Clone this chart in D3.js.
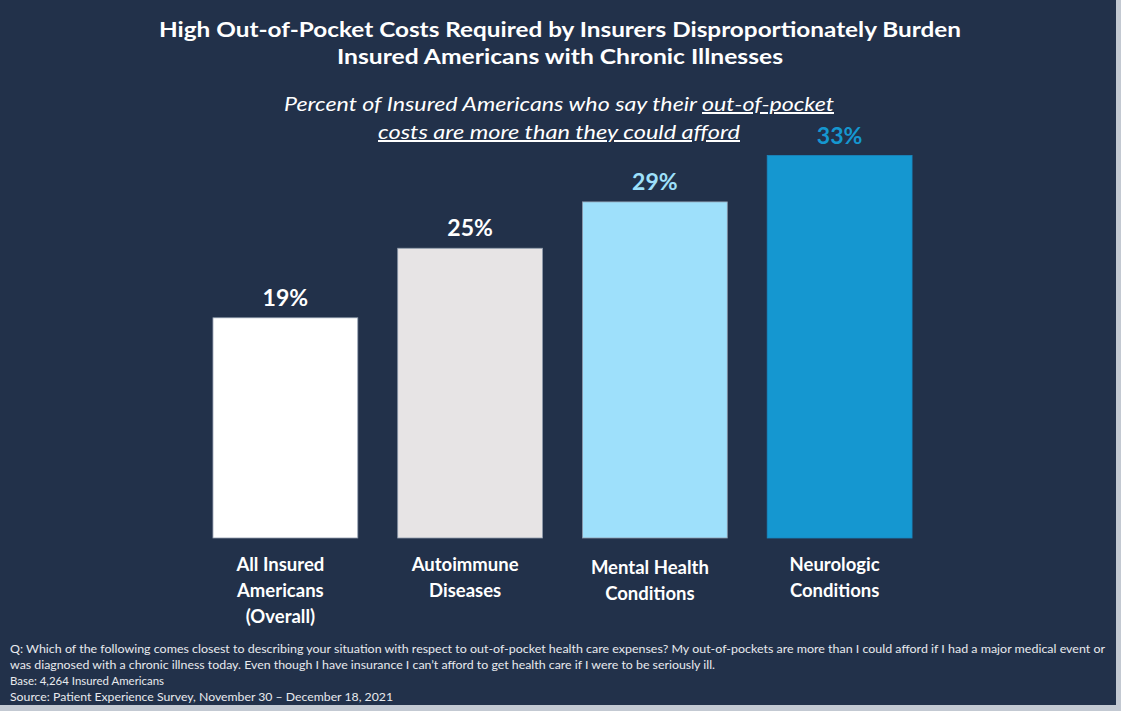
<!DOCTYPE html>
<html>
<head>
    <meta charset="utf-8">
    <script src="https://d3js.org/d3.v7.min.js"></script>
    <style>
        html, body { margin: 0; padding: 0; background: #ffffff; }
        svg { display: block; }
    </style>
</head>
<body>
    <script>
        // chart data
        var categories = ["All Insured Americans (Overall)", "Autoimmune Diseases", "Mental Health Conditions", "Neurologic Conditions"];
        var labelLines = [["All Insured", "Americans", "(Overall)"], ["Autoimmune", "Diseases"], ["Mental Health", "Conditions"], ["Neurologic", "Conditions"]];
        var values = [19, 25, 29, 33];
        var barColors = ["#ffffff", "#e7e4e5", "#9ee0fb", "#1597d0"];
        var valueColors = ["#ffffff", "#ffffff", "#9ee0fb", "#1597d0"];

        var titleLines = ["High Out-of-Pocket Costs Required by Insurers Disproportionately Burden", "Insured Americans with Chronic Illnesses"];
        var footnotes = [
            "Q: Which of the following comes closest to describing your situation with respect to out-of-pocket health care expenses? My out-of-pockets are more than I could afford if I had a major medical event or",
            "was diagnosed with a chronic illness today. Even though I have insurance I can\u2019t afford to get health care if I were to be seriously ill.",
            "Base: 4,264 Insured Americans",
            "Source: Patient Experience Survey, November 30 \u2013 December 18, 2021"
        ];

        var width = 1121, height = 711;
        var font = "Lato, 'Open Sans', sans-serif";

        var svg = d3.select("body").append("svg")
            .attr("width", width)
            .attr("height", height);

        // light frame on right / bottom, dark panel
        svg.append("rect").attr("width", width).attr("height", height).attr("fill", "#c3c9d2");
        svg.append("rect").attr("width", 1116).attr("height", 705).attr("fill", "#22314a");

        // title
        svg.append("g").selectAll("text")
            .data(titleLines)
            .join("text")
            .attr("x", 560)
            .attr("y", function(d, i) { return 37 + i * 27; })
            .attr("text-anchor", "middle")
            .attr("fill", "#ffffff")
            .style("font-family", font)
            .style("font-weight", "bold")
            .style("font-size", "21px")
            .attr("textLength", function(d, i) { return i === 0 ? 802 : 446; })
            .attr("lengthAdjust", "spacingAndGlyphs")
            .text(function(d) { return d; });

        // subtitle
        var sub1 = svg.append("text")
            .attr("x", 559).attr("y", 111)
            .attr("text-anchor", "middle")
            .attr("fill", "#ffffff")
            .style("font-family", font)
            .style("font-style", "italic")
            .style("font-size", "20px")
            .attr("textLength", 550)
            .attr("lengthAdjust", "spacingAndGlyphs");
        sub1.append("tspan").text("Percent of Insured Americans who say their ");
        sub1.append("tspan").style("text-decoration", "underline").text("out-of-pocket");

        svg.append("text")
            .attr("x", 559).attr("y", 139)
            .attr("text-anchor", "middle")
            .attr("fill", "#ffffff")
            .style("font-family", font)
            .style("font-style", "italic")
            .style("font-size", "20px")
            .style("text-decoration", "underline")
            .attr("textLength", 362)
            .attr("lengthAdjust", "spacingAndGlyphs")
            .text("costs are more than they could afford");

        // scales
        var x = d3.scaleBand()
            .domain(categories)
            .range([193, 932])
            .paddingInner(0.216)
            .paddingOuter(0.108);

        var y = d3.scaleLinear()
            .domain([0, 35])
            .range([538, 538 - 35 * 11.59]);

        var bars = svg.append("g").selectAll("g")
            .data(categories)
            .join("g");

        bars.append("rect")
            .attr("x", function(d) { return x(d); })
            .attr("y", function(d, i) { return y(values[i]); })
            .attr("width", x.bandwidth())
            .attr("height", function(d, i) { return y(0) - y(values[i]); })
            .attr("fill", function(d, i) { return barColors[i]; })
            .attr("stroke", function(d, i) { return i === 3 ? "#1a88c0" : "#8e9aab"; })
            .attr("stroke-width", 0.8);

        bars.append("text")
            .attr("x", function(d) { return x(d) + x.bandwidth() / 2; })
            .attr("y", function(d, i) { return y(values[i]) - 12; })
            .attr("text-anchor", "middle")
            .attr("fill", function(d, i) { return valueColors[i]; })
            .style("font-family", font)
            .style("font-weight", "bold")
            .style("font-size", "23px")
            .text(function(d, i) { return values[i] + "%"; });

        // category labels
        bars.append("text")
            .attr("text-anchor", "middle")
            .attr("fill", "#ffffff")
            .style("font-family", font)
            .style("font-weight", "bold")
            .style("font-size", "18.5px")
            .each(function(d, i) {
                var t = d3.select(this);
                var shift = i === 2 ? 3 : 0;
                labelLines[i].forEach(function(line, j) {
                    t.append("tspan")
                        .attr("x", x(d) + x.bandwidth() / 2 - 5)
                        .attr("y", 571 + shift + j * 26)
                        .text(line);
                });
            });

        // footnotes
        var footWidths = [1095, 705, 154, 383];
        svg.append("g").selectAll("text")
            .data(footnotes)
            .join("text")
            .attr("x", 10)
            .attr("y", function(d, i) { return 653 + i * 16; })
            .attr("fill", "#e8eaee")
            .style("font-family", font)
            .style("font-size", "12px")
            .attr("textLength", function(d, i) { return footWidths[i]; })
            .attr("lengthAdjust", "spacingAndGlyphs")
            .text(function(d) { return d; });
    </script>
</body>
</html>
